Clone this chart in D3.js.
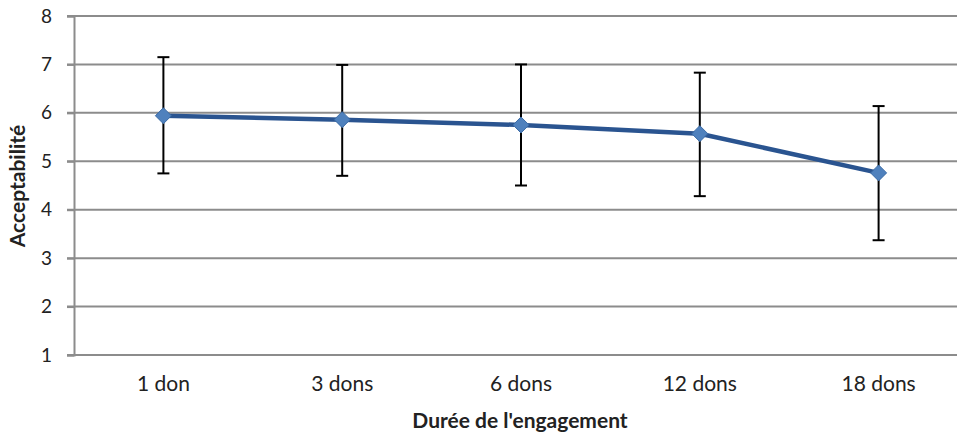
<!DOCTYPE html>
<html lang="fr">
<head>
    <meta charset="UTF-8">
    <title>Acceptabilité selon la durée de l'engagement</title>
    <script src="https://d3js.org/d3.v7.min.js"></script>
    <style>
        body { margin: 0; background: #fff; }
        svg text { font-family: Lato, "Open Sans", sans-serif; fill: #222; }
    </style>
</head>
<body>
    <svg width="957" height="436"></svg>
    <script>
        // Data
        const categories = ["1 don", "3 dons", "6 dons", "12 dons", "18 dons"];
        const means = [5.94, 5.86, 5.75, 5.57, 4.76];
        const errHigh = [7.15, 6.99, 7.0, 6.83, 6.14];
        const errLow = [4.75, 4.70, 4.50, 4.28, 3.37];
        const yTicks = [1, 2, 3, 4, 5, 6, 7, 8];

        const data = categories.map((c, i) => ({ cat: c, mean: means[i], hi: errHigh[i], lo: errLow[i] }));

        const svg = d3.select("svg");

        const x = d3.scaleBand()
            .domain(categories)
            .range([74, 968]);

        const y = d3.scaleLinear()
            .domain([1, 8])
            .range([355, 16]);

        // Horizontal gridlines
        svg.append("g")
            .selectAll("line")
            .data(yTicks)
            .enter().append("line")
            .attr("x1", 67)
            .attr("x2", 957)
            .attr("y1", d => y(d))
            .attr("y2", d => y(d))
            .attr("stroke", "#8c8c8c")
            .attr("stroke-width", 2);

        // Y axis
        const yAxis = svg.append("g")
            .attr("transform", "translate(74,0)")
            .call(d3.axisLeft(y).tickValues(yTicks).tickFormat(d3.format("d")).tickSize(7).tickPadding(15));
        yAxis.select(".domain").attr("stroke", "#8c8c8c").attr("stroke-width", 2);
        yAxis.selectAll(".tick line").attr("stroke", "#8c8c8c").attr("stroke-width", 2);
        yAxis.selectAll("text")
            .style("font-size", "19px")
            .style("font-family", "Lato, sans-serif")
            .attr("fill", "#333");

        // X axis
        const xAxis = svg.append("g")
            .attr("transform", "translate(0,355)")
            .call(d3.axisBottom(x).tickSize(0).tickPadding(21));
        xAxis.select(".domain").remove();
        xAxis.selectAll("text")
            .style("font-size", "21px")
            .style("font-family", "Lato, sans-serif")
            .attr("fill", "#333");

        // Axis titles
        svg.append("text")
            .attr("x", 520)
            .attr("y", 428)
            .attr("text-anchor", "middle")
            .style("font-size", "21px")
            .style("font-weight", "bold")
            .text("Durée de l'engagement");

        svg.append("text")
            .attr("transform", "rotate(-90)")
            .attr("x", -186)
            .attr("y", 25)
            .attr("text-anchor", "middle")
            .style("font-size", "21px")
            .style("font-weight", "bold")
            .text("Acceptabilité");

        const cx = d => x(d.cat) + x.bandwidth() / 2;

        // Error bars
        const err = svg.append("g").attr("stroke", "#000").attr("stroke-width", 2);
        err.selectAll(".stem")
            .data(data)
            .enter().append("line")
            .attr("x1", cx).attr("x2", cx)
            .attr("y1", d => y(d.hi)).attr("y2", d => y(d.lo));
        err.selectAll(".capTop")
            .data(data)
            .enter().append("line")
            .attr("x1", d => cx(d) - 6).attr("x2", d => cx(d) + 6)
            .attr("y1", d => y(d.hi)).attr("y2", d => y(d.hi));
        err.selectAll(".capBot")
            .data(data)
            .enter().append("line")
            .attr("x1", d => cx(d) - 6).attr("x2", d => cx(d) + 6)
            .attr("y1", d => y(d.lo)).attr("y2", d => y(d.lo));

        // Line
        svg.append("path")
            .datum(data)
            .attr("fill", "none")
            .attr("stroke", "#2a5490")
            .attr("stroke-width", 4.5)
            .attr("stroke-linejoin", "round")
            .attr("d", d3.line().x(cx).y(d => y(d.mean)));

        // Diamond markers
        svg.append("g")
            .selectAll("path")
            .data(data)
            .enter().append("path")
            .attr("transform", d => `translate(${cx(d)},${y(d.mean)})`)
            .attr("d", "M0,-8L8,0L0,8L-8,0Z")
            .attr("fill", "#4f81bd")
            .attr("stroke", "#3a6ba6")
            .attr("stroke-width", 1);
    </script>
</body>
</html>
